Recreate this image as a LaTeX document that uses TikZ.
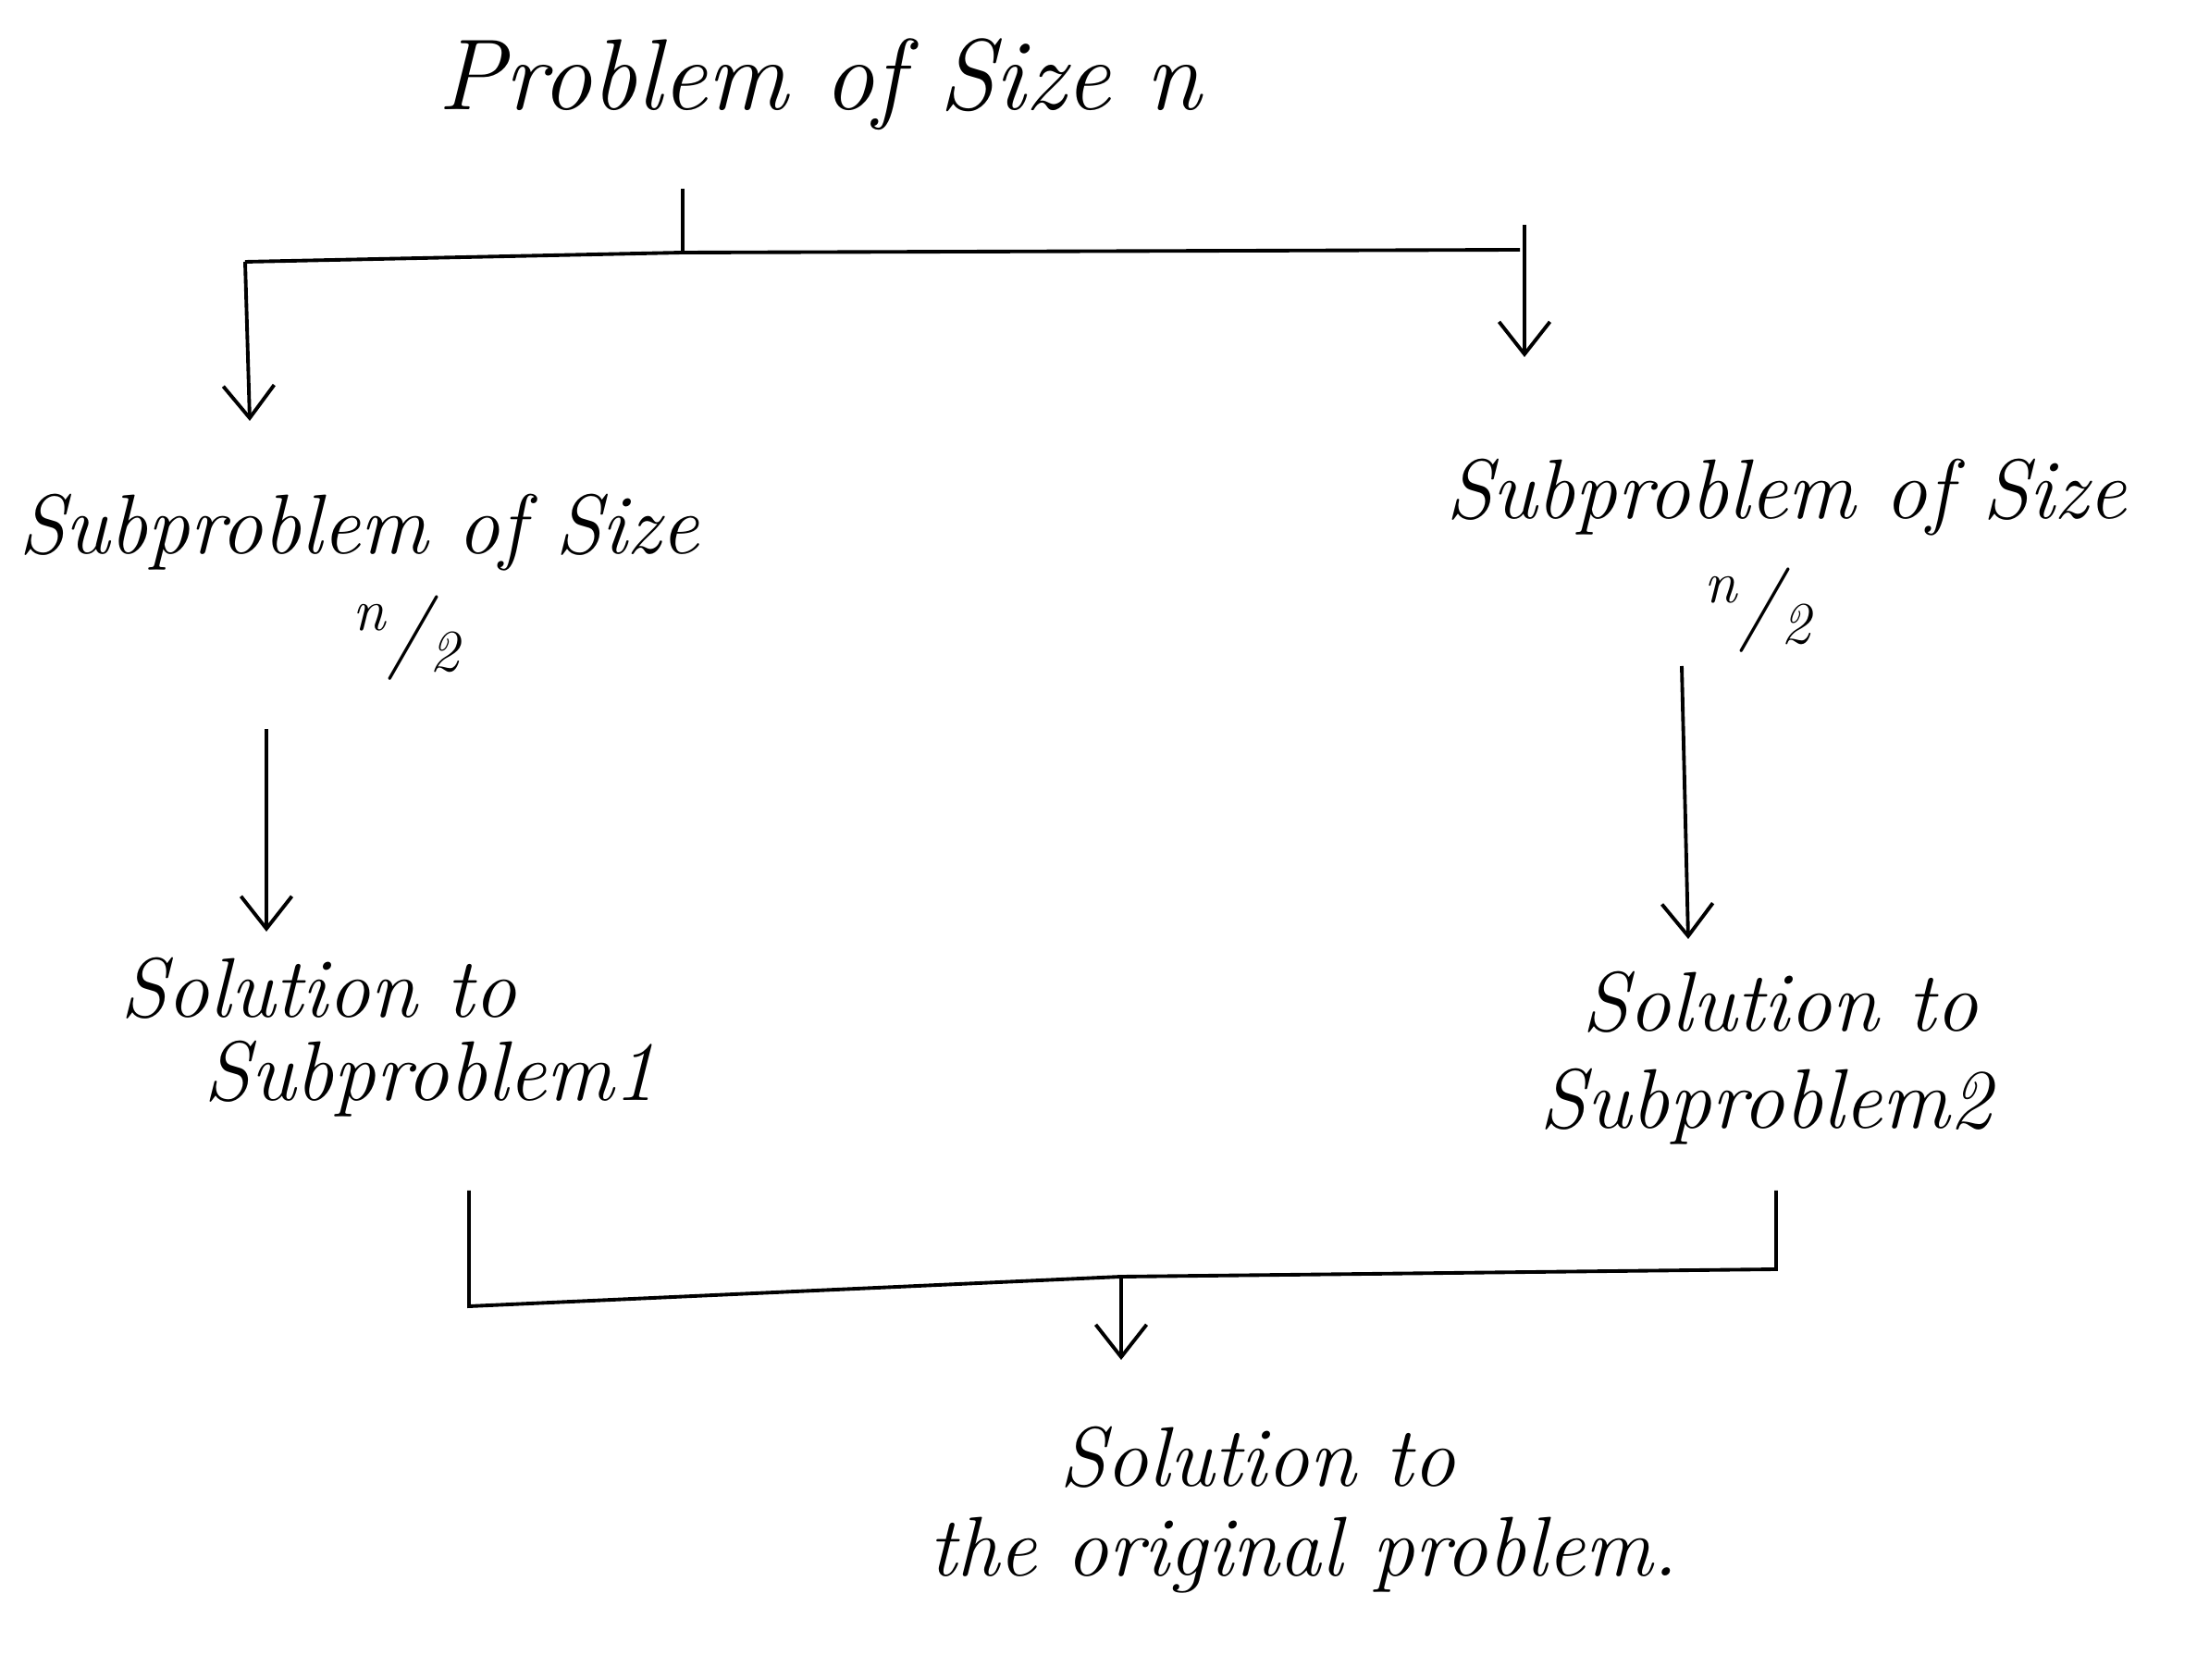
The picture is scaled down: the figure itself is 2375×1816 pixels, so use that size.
\documentclass[tikz,border=0pt]{standalone}
\usetikzlibrary{arrows.meta}
\begin{document}
\begin{tikzpicture}[x=0.01cm,y=-0.01cm,
  lbl/.style={font=\fontsize{26}{34}\selectfont\itshape, inner sep=2pt, align=center},
  big/.style={lbl, font=\fontsize{31}{38}\selectfont\itshape},
  pen/.style={line width=1.1pt, black},
  arr/.style={pen, -{Straight Barb[length=0.35cm,width=0.55cm,line width=1.1pt]}}]
\useasboundingbox (0,0) rectangle (2375,1816);
% text
\node[big] (title) at (886,91) {Problem of Size n};
\node[lbl] (subL) at (388,576) {Subproblem of Size};
\node[lbl] (halfL) at (440,690) {\textsuperscript{n}/\textsubscript{2}};
\node[lbl] (subR) at (1931,538) {Subproblem of Size};
\node[lbl] (halfR) at (1901,660) {\textsuperscript{n}/\textsubscript{2}};
\node[lbl] (solL1) at (344,1068) {Solution to};
\node[lbl] (solL2) at (465,1166) {Subproblem1};
\node[lbl] (solR1) at (1924,1083) {Solution to};
\node[lbl] (solR2) at (1909,1196) {Subproblem2};
\node[lbl] (fin1) at (1359,1575) {Solution to};
\node[lbl] (fin2) at (1409,1681) {the original problem.};
% coordinates
\coordinate (t0) at (738,204);
\coordinate (t1) at (738,273);
\coordinate (hl) at (265,283);
\coordinate (hr) at (1643,270);
\coordinate (lt) at (270,455);
\coordinate (r0) at (1648,243);
\coordinate (rt) at (1648,386);
\coordinate (l2s) at (288,788);
\coordinate (l2t) at (288,1007);
\coordinate (r2s) at (1818,720);
\coordinate (r2t) at (1825,1015);
\coordinate (b0) at (507,1287);
\coordinate (b1) at (507,1412);
\coordinate (b2) at (1920,1372);
\coordinate (b3) at (1920,1287);
\coordinate (bm) at (1212,1380);
\coordinate (bt) at (1212,1470);
% connectors
\draw[pen] (t0) -- (t1);
\draw[pen] (hl) -- (t1) -- (hr);
\draw[arr] (hl) -- (lt);
\draw[arr] (r0) -- (rt);
\draw[arr] (l2s) -- (l2t);
\draw[arr] (r2s) -- (r2t);
\draw[pen] (b0) -- (b1) -- (bm) -- (b2) -- (b3);
\draw[arr] (bm) -- (bt);
\end{tikzpicture}
\end{document}
